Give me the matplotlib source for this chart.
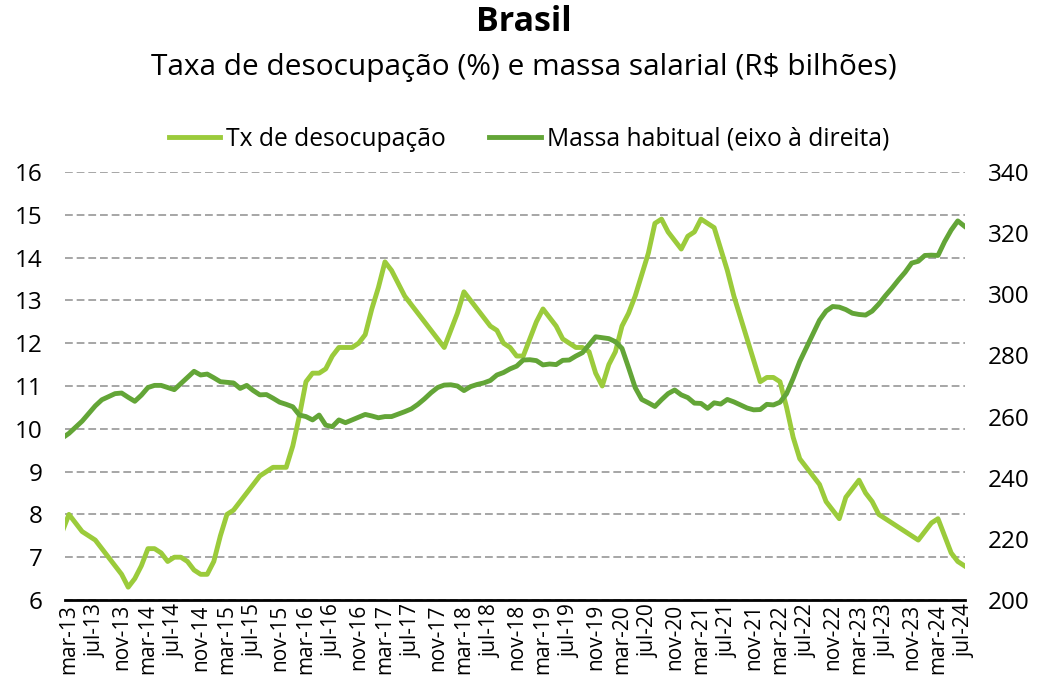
import matplotlib
matplotlib.use("Agg")
import matplotlib.pyplot as plt
import numpy as np

plt.rcParams['font.family'] = ['Open Sans', 'DejaVu Sans']

# meses a partir de fev-13 (índice -1) até jul-24 (índice 136); mar-13 = 0
inicio = -1

# Taxa de desocupação (%)
tx_desocupacao = [
    7.6,                                                        # fev-13
    8.0, 7.8, 7.6, 7.5, 7.4, 7.2, 7.0, 6.8, 6.6, 6.3,           # mar-13 .. dez-13
    6.5, 6.8, 7.2, 7.2, 7.1, 6.9, 7.0, 7.0, 6.9, 6.7, 6.6, 6.6, # 2014
    6.9, 7.5, 8.0, 8.1, 8.3, 8.5, 8.7, 8.9, 9.0, 9.1, 9.1, 9.1, # 2015
    9.6, 10.3, 11.1, 11.3, 11.3, 11.4, 11.7, 11.9, 11.9, 11.9, 12.0, 12.2,  # 2016
    12.8, 13.3, 13.9, 13.7, 13.4, 13.1, 12.9, 12.7, 12.5, 12.3, 12.1, 11.9, # 2017
    12.3, 12.7, 13.2, 13.0, 12.8, 12.6, 12.4, 12.3, 12.0, 11.9, 11.7, 11.7, # 2018
    12.1, 12.5, 12.8, 12.6, 12.4, 12.1, 12.0, 11.9, 11.9, 11.8, 11.3, 11.0, # 2019
    11.5, 11.8, 12.4, 12.7, 13.1, 13.6, 14.1, 14.8, 14.9, 14.6, 14.4, 14.2, # 2020
    14.5, 14.6, 14.9, 14.8, 14.7, 14.2, 13.7, 13.1, 12.6, 12.1, 11.6, 11.1, # 2021
    11.2, 11.2, 11.1, 10.5, 9.8, 9.3, 9.1, 8.9, 8.7, 8.3, 8.1, 7.9,         # 2022
    8.4, 8.6, 8.8, 8.5, 8.3, 8.0, 7.9, 7.8, 7.7, 7.6, 7.5, 7.4,             # 2023
    7.6, 7.8, 7.9, 7.5, 7.1, 6.9, 6.8,                                      # 2024
]

# Massa habitual (R$ bilhões)
massa_habitual = [
    253.0,
    254.5, 256.5, 258.5, 261.0, 263.5, 265.5, 266.5, 267.5, 267.7, 266.3,
    265.0, 267.0, 269.5, 270.2, 270.2, 269.5, 268.8, 270.8, 272.8, 274.8, 273.6, 273.9,
    272.7, 271.4, 271.2, 271.0, 269.2, 270.2, 268.5, 267.1, 267.2, 266.0, 264.7, 264.0,
    263.2, 260.5, 260.0, 258.9, 260.5, 257.2, 256.7, 258.9, 258.0, 258.9, 259.8, 260.7,
    260.2, 259.6, 260.0, 260.0, 260.8, 261.6, 262.5, 264.0, 265.8, 267.8, 269.5, 270.3,
    270.4, 270.0, 268.5, 269.8, 270.5, 271.0, 271.8, 273.6, 274.4, 275.6, 276.5, 278.5,
    278.6, 278.3, 276.9, 277.2, 277.0, 278.4, 278.5, 279.8, 280.9, 283.5, 286.1, 285.8,
    285.5, 284.5, 282.3, 276.0, 269.5, 265.6, 264.5, 263.3, 265.5, 267.5, 268.7, 267.1,
    266.2, 264.4, 264.3, 262.7, 264.5, 264.1, 265.6, 264.8, 263.8, 262.8, 262.2, 262.3,
    264.0, 263.8, 264.7, 267.5, 272.5, 278.0, 282.5, 287.0, 291.5, 294.5, 296.0, 295.8,
    295.0, 293.8, 293.4, 293.2, 294.5, 296.8, 299.5, 302.0, 304.7, 307.2, 310.2, 310.8,
    312.7, 312.8, 312.7, 317.2, 321.0, 324.0, 322.3,
]

rotulos_x = ["mar-13", "jul-13", "nov-13", "mar-14", "jul-14", "nov-14",
             "mar-15", "jul-15", "nov-15", "mar-16", "jul-16", "nov-16",
             "mar-17", "jul-17", "nov-17", "mar-18", "jul-18", "nov-18",
             "mar-19", "jul-19", "nov-19", "mar-20", "jul-20", "nov-20",
             "mar-21", "jul-21", "nov-21", "mar-22", "jul-22", "nov-22",
             "mar-23", "jul-23", "nov-23", "mar-24", "jul-24"]

x = np.arange(inicio, inicio + len(tx_desocupacao))

verde_claro = '#9BCB3B'
verde_escuro = '#63A537'

fig = plt.figure(figsize=(10.37, 6.89), dpi=100)
ax = fig.add_axes([65 / 1037, 89 / 689, 900 / 1037, 428 / 689])
ax2 = ax.twinx()

l1, = ax.plot(x, tx_desocupacao, color=verde_claro, lw=3.5,
              solid_joinstyle='round', label='Tx de desocupação', zorder=3)
l2, = ax2.plot(x, massa_habitual, color=verde_escuro, lw=3.5,
               solid_joinstyle='round', label='Massa habitual (eixo à direita)')

ax.set_xlim(-0.6, 136.1)
ax.set_ylim(6, 16)
ax2.set_ylim(200, 340)
ax.set_yticks(range(6, 17))
ax2.set_yticks(range(200, 341, 20))

ax.grid(axis='y', color='#A6A6A6', linestyle=(0, (4, 2)), linewidth=1.4)
ax.set_axisbelow(True)

ax.set_xticks(range(0, 137, 4))
ax.set_xticklabels(rotulos_x, rotation=90, fontsize=15)

for a in (ax, ax2):
    for s in ('top', 'left', 'right', 'bottom'):
        a.spines[s].set_visible(False)
ax.spines['bottom'].set_visible(True)
ax.spines['bottom'].set_linewidth(2)
ax.spines['bottom'].set_color('black')

ax.tick_params(axis='x', length=0, pad=3)
ax.tick_params(axis='y', length=0, labelsize=17.5, pad=16)
ax2.tick_params(axis='y', length=0, labelsize=17.5, pad=16.5)

fig.text(0.505, 1 - 22 / 689, 'Brasil', ha='center', va='center',
         fontsize=24.5, fontweight='bold')
fig.text(0.505, 1 - 67 / 689, 'Taxa de desocupação (%) e massa salarial (R$ bilhões)',
         ha='center', va='center', fontsize=21.5)

fig.legend(handles=[l1, l2], loc='center', bbox_to_anchor=(529 / 1037, 1 - 139 / 689),
           ncol=2, frameon=False, fontsize=17.7, handlelength=2.1,
           handletextpad=0.25, columnspacing=1.75)

fig.savefig('out.png', dpi=100)
